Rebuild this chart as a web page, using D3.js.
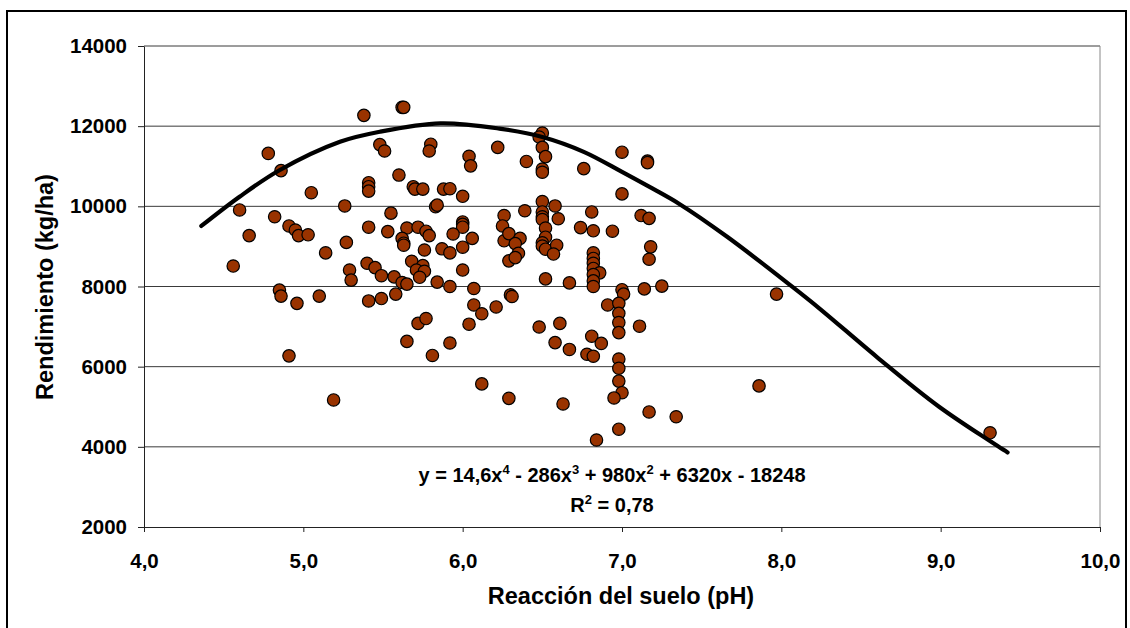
<!DOCTYPE html>
<html lang="es">
<head>
<meta charset="utf-8">
<title>Rendimiento vs pH</title>
<style>
  body { margin: 0; background: #fff; }
  svg text { font-family: "Liberation Sans", Arial, sans-serif; font-weight: bold; fill: #000; }
  .grid line { stroke: #3a3a3a; stroke-width: 1; }
  .axis path, .axis line { stroke: #222; }
  .dot { fill: #993300; stroke: #000; stroke-width: 1.2; }
</style>
</head>
<body>
<svg width="1130" height="628"></svg>
<script src="https://d3js.org/d3.v7.min.js"></script>
<script>
  // tick values
  const xTicks = [4, 5, 6, 7, 8, 9, 10];
  const yTicks = [2000, 4000, 6000, 8000, 10000, 12000, 14000];

  // observed points: [pH, rendimiento kg/ha]
  const muestras = [
    [4.78,11320],[4.86,10890],[5.05,10340],[4.60,9910],[4.82,9740],[4.91,9510],[4.95,9410],[4.97,9270],
    [5.03,9290],[4.66,9270],[5.14,8840],[4.56,8510],[4.85,7910],[4.86,7760],[4.96,7580],[5.10,7760],
    [4.91,6270],[5.19,5170],[5.26,10010],
    [5.38,12270],[5.62,12470],[5.63,12470],[5.48,11540],[5.51,11380],[5.80,11550],[5.79,11380],[6.22,11470],
    [6.04,11250],[6.05,11010],[5.60,10780],[5.41,10590],[5.41,10490],[5.41,10380],[5.69,10490],[5.70,10430],
    [5.75,10430],[5.88,10430],[5.92,10440],[6.00,10250],[5.83,9990],[5.84,10030],[5.55,9830],[6.26,9770],
    [5.41,9480],[5.53,9370],[5.65,9460],[5.72,9480],[5.77,9380],[5.79,9270],[6.00,9610],[6.00,9550],
    [6.00,9480],[5.94,9310],[6.06,9200],[6.25,9510],[6.26,9140],[6.29,9320],[5.27,9100],[5.62,9200],
    [5.63,9080],[5.63,9030],[5.76,8910],[5.87,8940],[5.92,8840],[6.00,8980],[5.40,8580],[5.45,8470],
    [5.49,8270],[5.29,8410],[5.30,8160],[5.68,8630],[5.75,8520],[5.71,8410],[5.76,8380],[5.73,8230],
    [5.57,8240],[5.62,8100],[5.65,8060],[5.84,8110],[5.92,8000],[6.00,8410],[6.07,7950],[6.29,8640],
    [5.49,7700],[5.41,7640],[5.58,7810],[6.07,7540],[6.12,7320],[6.21,7490],[6.04,7060],[5.72,7080],
    [5.77,7200],[5.65,6630],[5.81,6280],[5.92,6590],[6.12,5570],[6.29,5210],
    [6.50,11830],[6.48,11730],[6.50,11470],[6.52,11240],[6.40,11120],[6.50,10930],[6.50,10850],[6.76,10940],
    [7.00,11350],[7.16,11130],[7.16,11090],[7.00,10310],[6.50,10120],[6.58,10010],[6.39,9890],[6.50,9860],
    [6.50,9740],[6.50,9670],[6.60,9690],[6.81,9860],[7.12,9770],[7.17,9700],[6.52,9460],[6.74,9470],
    [6.82,9390],[6.94,9380],[6.36,9200],[6.33,9070],[6.52,9230],[6.50,9090],[6.50,9010],[6.52,8930],
    [6.59,9030],[6.57,8810],[6.35,8830],[6.33,8720],[7.18,8990],[7.17,8680],[6.82,8840],[6.82,8700],
    [6.82,8580],[6.82,8450],[6.86,8340],[6.82,8300],[6.82,8140],[6.82,8000],[6.52,8190],[6.67,8090],
    [7.00,7920],[7.14,7940],[7.25,8010],[7.01,7810],[6.30,7790],[6.31,7750],[6.91,7540],[6.98,7580],
    [6.98,7330],[6.98,7100],[6.98,6850],[7.11,7010],[6.48,6990],[6.61,7080],[6.58,6600],[6.67,6430],
    [6.81,6760],[6.87,6580],[6.78,6310],[6.82,6260],[6.98,6190],[6.98,5960],[6.98,5640],[7.00,5350],
    [6.95,5220],[6.63,5070],[7.17,4870],[7.34,4750],[6.98,4440],[6.84,4170],[7.97,7810],[7.86,5520],
    [9.31,4350]
  ];

  // trend line
  const tendencia = [
    [4.36,9510],[4.60,10240],[4.85,10900],[5.23,11610],[5.48,11860],[5.86,12070],[6.23,11940],
    [6.50,11730],[6.76,11360],[7.00,10860],[7.17,10490],[7.36,10060],[7.66,9240],[8.07,7990],
    [8.24,7450],[8.60,6240],[8.99,5000],[9.42,3860]
  ];

  const svg = d3.select("svg");
  const margin = {top: 46, left: 144};
  const width = 956, height = 481;

  // outer frame
  svg.append("rect")
    .attr("x", 7).attr("y", 11)
    .attr("width", 1119).attr("height", 630)
    .attr("fill", "none").attr("stroke", "#000").attr("stroke-width", 2);

  const vis = svg.append("g")
    .attr("transform", `translate(${margin.left},${margin.top})`);

  const x = d3.scaleLinear().domain([4, 10]).range([0, width]);
  const y = d3.scaleLinear().domain([2000, 14000]).range([height, 0]);

  // horizontal gridlines
  vis.append("g").attr("class", "grid")
    .selectAll("line")
    .data(yTicks.slice(1))
    .join("line")
    .attr("x1", 0).attr("x2", width)
    .attr("y1", d => y(d)).attr("y2", d => y(d));

  // right side of plot area
  vis.append("line")
    .attr("x1", width).attr("x2", width)
    .attr("y1", 0).attr("y2", height)
    .attr("stroke", "#888");

  const fmt = d => d3.format(".1f")(d).replace(".", ",");

  vis.append("g").attr("class", "axis")
    .attr("transform", `translate(0,${height})`)
    .call(d3.axisBottom(x).tickValues(xTicks).tickFormat(fmt).tickSizeInner(5).tickSizeOuter(5).tickPadding(21));

  vis.append("g").attr("class", "axis")
    .call(d3.axisLeft(y).tickValues(yTicks).tickFormat(d3.format("d")).tickSizeInner(6).tickSizeOuter(0).tickPadding(11));

  vis.selectAll(".axis text")
    .attr("font-size", 20.5)
    .style("font-family", "'Liberation Sans', Arial, sans-serif")
    .style("font-weight", "bold");

  // points
  vis.append("g")
    .selectAll("circle")
    .data(muestras)
    .join("circle")
    .attr("class", "dot")
    .attr("cx", d => x(d[0]))
    .attr("cy", d => y(d[1]))
    .attr("r", 6.2);

  // polynomial trend line
  const line = d3.line()
    .x(d => x(d[0]))
    .y(d => y(d[1]))
    .curve(d3.curveCatmullRom.alpha(0.5));

  vis.append("path")
    .datum(tendencia)
    .attr("d", line)
    .attr("fill", "none")
    .attr("stroke", "#000")
    .attr("stroke-width", 4.2)
    .attr("stroke-linecap", "round");

  // equation label
  const eq = svg.append("text")
    .attr("x", 612).attr("y", 482)
    .attr("text-anchor", "middle")
    .attr("font-size", 20);
  const parts = [["y = 14,6x"], ["4", true], [" - 286x"], ["3", true], [" + 980x"], ["2", true], [" + 6320x - 18248"]];
  parts.forEach(p => {
    const t = eq.append("tspan").text(p[0]);
    if (p[1]) t.attr("font-size", 13).attr("dy", -8);
    else if (eq.selectAll("tspan").size() > 1) t.attr("dy", 8);
  });

  const r2 = svg.append("text")
    .attr("x", 612).attr("y", 512)
    .attr("text-anchor", "middle")
    .attr("font-size", 20);
  r2.append("tspan").text("R");
  r2.append("tspan").text("2").attr("font-size", 13).attr("dy", -8);
  r2.append("tspan").text(" = 0,78").attr("dy", 8);

  // axis titles
  svg.append("text")
    .attr("x", 621).attr("y", 604)
    .attr("text-anchor", "middle")
    .attr("font-size", 23.5)
    .text("Reacción del suelo (pH)");

  svg.append("text")
    .attr("transform", "translate(53,287) rotate(-90)")
    .attr("text-anchor", "middle")
    .attr("font-size", 23.5)
    .text("Rendimiento (kg/ha)");
</script>
</body>
</html>
